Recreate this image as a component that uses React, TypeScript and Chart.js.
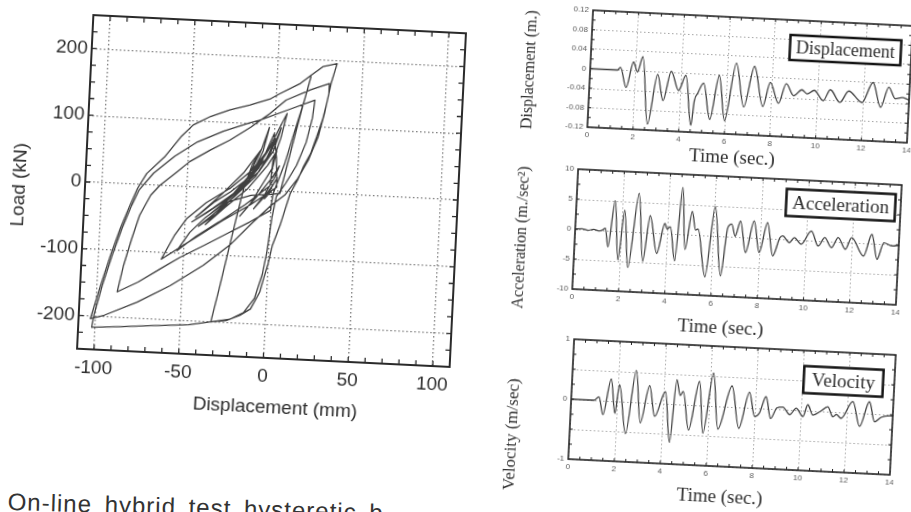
import React, { useEffect, useRef } from 'react';
import { Chart, registerables } from 'chart.js';

Chart.register(...registerables);

const SANS = '"Liberation Sans", Arial, sans-serif';
const SERIF = '"Liberation Serif", "Times New Roman", serif';
const INK = '#2e2e2e';
const TRACE = '#404040';
const ROT = 2.8;

// ---------------- data: load–displacement path (mm, kN) ----------------
const loopSmall: [number, number][] = [
  [0, 0], [-2, -6], [-4, -12], [-1, 1], [3, 20], [0, 6], [-5, -12], [-10, -28], [-4, -6], [1, 18],
  [4, 38], [0, 20], [-8, -8], [-18, -40], [-12, -20], [-5, 12], [0, 35], [2, 60], [-3, 38], [-14, 2],
  [-27, -28], [-38, -55], [-31, -36], [-21, -8], [-11, 30], [-6, 60], [-3, 95], [-7, 62], [-17, 25], [-29, -8],
  [-44, -45], [-33, -20], [-24, -4], [-12, 22], [-4, 48], [1, 78], [-5, 52], [-16, 12], [-26, -18], [-36, -40],
  [-28, -22], [-18, 2], [-8, 34], [0, 86], [2, 50], [3, 6],
];
const loopMedium: [number, number][] = [
  [-12, -22], [-28, -48], [-45, -78], [-63, -110], [-56, -74], [-49, -47], [-38, -22], [-24, 2], [-12, 30], [-3, 62],
  [7, 117], [4, 80], [0, 45], [-1, 8], [-15, -22], [-30, -50], [-43, -73], [-54, -96], [-47, -68], [-38, -44],
  [-26, -20], [-12, -8], [0, -5], [5, -3], [10, 58], [15, 118], [20, 174], [17, 140], [12, 92], [7, 42],
  [1, -4], [0, -29], [-12, -48], [-25, -67], [-38, -86], [-52, -106], [-63, -124], [-76, -146], [-88, -162],
];
const loopLarge: [number, number][] = [
  [-85, -122], [-81, -82], [-77, -46], [-71, -15], [-66, 0], [-56, 22], [-49, 38], [-37, 57], [-26, 73], [-14, 94],
  [-3, 116], [6, 137], [20, 154], [31, 165], [31, 150], [29, 120], [26, 85], [21, 50], [15, 20], [8, -5],
  [0, -22], [-10, -48], [-23, -84], [-38, -116], [-57, -149], [-76, -176], [-95, -198], [-103, -204], [-98, -154], [-93, -108],
  [-88, -67], [-83, -32], [-79, -6], [-74, 17], [-64, 43], [-55, 74], [-48, 93], [-38, 107], [-27, 118], [-15, 127],
  [-3, 138], [2, 146], [14, 163], [20, 176], [27, 190], [35, 195], [34, 185], [32, 165], [30, 135], [28, 110],
  [25, 84], [22, 59], [18, 38], [15, 18], [11, -3], [6, -51], [2, -82], [0, -110], [-2, -130], [-4, -152],
  [-9, -178], [-15, -188], [-23, -197], [-32, -200], [-45, -206], [-67, -210], [-85, -214], [-102, -217],
];
const loopFinal: [number, number][] = [
  [-101, -198], [-97, -154], [-92, -108], [-87, -67], [-82, -32], [-78, -8], [-70, 18], [-58, 45], [-45, 68], [-30, 86],
  [-15, 100], [-9, 105], [7, 122], [23, 139], [22, 112], [19, 75], [14, 40], [8, 12], [3, -8], [1, -40],
  [-1, -92], [-3, -125], [-7, -162], [-13, -184], [-21, -195], [-32, -200], [-28, -150], [-23.5, -90], [-19.7, -40], [-16, 7],
  [-12, 38], [-7, 62], [-14, 20], [-24, -12], [-30, -28], [-22, -8], [-12, 25], [-6, 45], [-13, 15], [-20, -5],
  [-30, -35], [-42, -58], [-34, -40], [-22, -12], [-10, 20], [-2, 55], [4, 95], [0, 60], [-8, 28], [-20, -2],
  [-34, -30], [-46, -52], [-38, -38], [-26, -16], [-16, 5],
];
const hystXTicks = [-100, -50, 0, 50, 100];
const hystYTicks = [-200, -100, 0, 100, 200];

// ---------------- data: time histories (s, value) ----------------
const timeTicks = [0, 2, 4, 6, 8, 10, 12, 14];

const dispSeries: [number, number][] = [
  [0, 0], [1.2, 0], [1.32, 0.006], [1.61, -0.035], [1.88, 0.018], [2.08, -0.002], [2.28, 0.03], [2.62, -0.108],
  [2.96, -0.005], [3.25, -0.058], [3.55, 0.003], [3.91, -0.036], [4.2, -0.004], [4.52, -0.106], [4.62, -0.055],
  [4.75, -0.04], [4.99, -0.018], [5.33, -0.092], [5.66, -0.001], [5.98, -0.093], [6.38, 0.026], [6.79, -0.063],
  [7.18, 0.021], [7.62, -0.06], [7.9, -0.01], [8.3, -0.052], [8.6, -0.011], [8.95, -0.035], [9.3, -0.022],
  [9.53, -0.03], [9.84, -0.022], [10.25, -0.042], [10.54, -0.019], [10.98, -0.044], [11.35, -0.02], [11.95, -0.042],
  [12.39, 0.0], [12.77, -0.05], [13.09, -0.008], [13.4, -0.031], [13.7, -0.028], [14, -0.032],
];
const dispYTicks = [-0.12, -0.08, -0.04, 0, 0.04, 0.08, 0.12];
const dispYLabels = ['-0.12', '-0.08', '-0.04', '0', '0.04', '0.08', '0.12'];

const accSeries: [number, number][] = [
  [0, 0], [0.3, 0.12], [0.55, -0.1], [0.8, 0.1], [1.05, -0.12], [1.2, 0.1], [1.3, 0.4], [1.45, -2.67],
  [1.67, 5.05], [1.91, -4.8], [2.1, 3.57], [2.35, -5.95], [2.69, 6.47], [2.98, -4.83], [3.21, 2.83], [3.57, -3.38],
  [3.86, 1.67], [3.97, 0.75], [4.1, 1.16], [4.36, -4.47], [4.56, 7.81], [4.78, -2.5], [5.02, 3.9], [5.2, 0.8],
  [5.3, 1.0], [5.7, -6.9], [6.0, 4.9], [6.37, -6.6], [6.58, 1.4], [6.75, 2.1], [6.92, 0.1], [7.12, 2.7],
  [7.4, -2.5], [7.71, 2.8], [7.99, -2.4], [8.29, 2.66], [8.58, -2.85], [8.85, 0.2], [8.97, 0.56], [9.27, -0.5],
  [9.48, 0.37], [9.78, -0.68], [10.2, 1.6], [10.52, -0.83], [10.79, 0.6], [11.1, -1.0], [11.37, 0.72], [11.7, -1.17],
  [11.95, 0.82], [12.5, -2.13], [12.82, 1.54], [13.09, -2.58], [13.35, 0.24], [13.72, -0.24], [14, -0.1],
];
const accYTicks = [-10, -5, 0, 5, 10];
const accYLabels = ['-10', '-5', '0', '5', '10'];

const velSeries: [number, number][] = [
  [0, 0], [1.0, 0], [1.2, 0.06], [1.41, -0.23], [1.7, 0.37], [1.93, -0.2], [2.07, 0.28], [2.43, -0.53],
  [2.77, 0.53], [3.05, -0.34], [3.38, 0.29], [3.66, -0.22], [4.08, 0.2], [4.36, -0.64], [4.55, 0.41], [4.73, 0.15],
  [4.85, 0.22], [5.16, -0.42], [5.54, 0.4], [5.79, -0.46], [6.13, 0.55], [6.43, -0.38], [6.96, 0.35], [7.34, -0.35],
  [7.73, 0.26], [8.0, -0.14], [8.2, -0.08], [8.46, 0.2], [8.7, -0.16], [8.95, 0.02], [9.21, 0.04], [9.52, -0.08],
  [9.79, 0.03], [10.1, -0.1], [10.29, 0.1], [10.53, -0.07], [10.85, 0.0], [11.16, 0.08], [11.4, -0.08], [11.55, -0.04],
  [11.76, -0.1], [12.24, 0.19], [12.58, -0.22], [12.96, 0.2], [13.22, -0.13], [13.5, -0.05], [13.86, -0.02], [14, -0.02],
];
const velYTicks = [-1, -0.5, 0, 0.5, 1];
const velYLabels = ['-1', '', '0', '', '1'];

// ---------------- helpers ----------------
function innerSteps(min: number, max: number, step: number): number[] {
  const out: number[] = [];
  const n = Math.round((max - min) / step);
  for (let i = 1; i < n; i++) out.push(+(min + i * step).toFixed(6));
  return out;
}

const frameTicks = {
  id: 'frameTicks',
  afterDraw(chart: any, _args: any, opts: any) {
    const { ctx, chartArea: a, scales } = chart;
    const xs = scales.x;
    const ys = scales.y;
    ctx.save();
    ctx.strokeStyle = opts.color;
    ctx.lineWidth = opts.tickWidth;
    ctx.beginPath();
    for (const v of opts.xTicks) {
      const p = xs.getPixelForValue(v);
      ctx.moveTo(p, a.bottom);
      ctx.lineTo(p, a.bottom - opts.tickLen);
      ctx.moveTo(p, a.top);
      ctx.lineTo(p, a.top + opts.tickLen);
    }
    for (const v of opts.yTicks) {
      const p = ys.getPixelForValue(v);
      ctx.moveTo(a.left, p);
      ctx.lineTo(a.left + opts.tickLen, p);
      ctx.moveTo(a.right, p);
      ctx.lineTo(a.right - opts.tickLen, p);
    }
    ctx.stroke();
    ctx.lineWidth = opts.frameWidth;
    ctx.strokeRect(a.left, a.top, a.right - a.left, a.bottom - a.top);
    const cx0 = (a.left + a.right) / 2;
    const cy0 = (a.top + a.bottom) / 2;
    for (const t of opts.texts) {
      ctx.save();
      ctx.translate(cx0 + t.dx, cy0 + t.dy);
      if (t.rot) ctx.rotate((t.rot * Math.PI) / 180);
      ctx.font = t.font;
      ctx.textAlign = 'center';
      ctx.textBaseline = 'middle';
      if (t.box) {
        const w = ctx.measureText(t.text).width + t.box.padX * 2;
        const h = t.box.h;
        ctx.fillStyle = '#ffffff';
        ctx.fillRect(-w / 2, -h / 2, w, h);
        ctx.lineWidth = t.box.lw;
        ctx.strokeStyle = '#141414';
        ctx.strokeRect(-w / 2, -h / 2, w, h);
      }
      ctx.fillStyle = t.color || INK;
      ctx.fillText(t.text, 0, 1);
      ctx.restore();
    }
    ctx.restore();
  },
};

function zeroPad(s: any) {
  s.paddingTop = 0;
  s.paddingBottom = 0;
  s.paddingLeft = 0;
  s.paddingRight = 0;
}

function hystConfig(): any {
  const path = [...loopSmall, ...loopMedium, ...loopLarge, ...loopFinal].map(([x, y]) => ({ x, y }));
  return {
    type: 'scatter',
    data: {
      datasets: [{
        data: path, showLine: true, borderColor: TRACE, borderWidth: 1.3, pointRadius: 0,
        tension: 0, borderJoinStyle: 'round', fill: false,
      }],
    },
    options: {
      animation: false, responsive: false, devicePixelRatio: 1, events: [],
      layout: { padding: { left: 0, top: 5, right: 10, bottom: 0 } },
      plugins: {
        legend: { display: false }, tooltip: { enabled: false },
        frameTicks: {
          xTicks: innerSteps(-110, 110, 10), yTicks: innerSteps(-250, 250, 25),
          tickLen: 5, tickWidth: 1.3, frameWidth: 2, color: '#2a2a2a',
          texts: [
            { text: 'Displacement (mm)', dx: 14, dy: 216, font: `19px ${SANS}` },
            { text: 'Load (kN)', dx: -253, dy: 6, rot: -90, font: `19px ${SANS}` },
          ],
        },
      },
      scales: {
        x: {
          type: 'linear', min: -110, max: 110,
          afterBuildTicks: (s: any) => { s.ticks = hystXTicks.map((v) => ({ value: v })); },
          ticks: { font: { family: SANS, size: 19 }, color: INK, padding: 7, maxRotation: 0, autoSkip: false },
          grid: { color: '#7a7a7a', lineWidth: 1.3, drawTicks: false },
          border: { display: false, dash: [1.5, 2.5] },
          afterFit: (s: any) => { s.height = 70; zeroPad(s); },
        },
        y: {
          type: 'linear', min: -250, max: 250,
          afterBuildTicks: (s: any) => { s.ticks = hystYTicks.map((v) => ({ value: v })); },
          ticks: { font: { family: SANS, size: 19 }, color: INK, padding: 4, autoSkip: false },
          grid: { color: '#7a7a7a', lineWidth: 1.3, drawTicks: false },
          border: { display: false, dash: [1.5, 2.5] },
          afterFit: (s: any) => { s.width = 84; zeroPad(s); },
        },
      },
    },
    plugins: [frameTicks],
  };
}

function seriesConfig(
  series: [number, number][], yMin: number, yMax: number, yTicks: number[], yLabels: string[],
  yMinorStep: number, bottomH: number, texts: any[],
): any {
  return {
    type: 'scatter',
    data: {
      datasets: [{
        data: series.map(([x, y]) => ({ x, y })), showLine: true, borderColor: TRACE, borderWidth: 1.3,
        pointRadius: 0, cubicInterpolationMode: 'monotone', fill: false,
      }],
    },
    options: {
      animation: false, responsive: false, devicePixelRatio: 1, events: [],
      layout: { padding: { left: 0, top: 4, right: 4, bottom: 0 } },
      plugins: {
        legend: { display: false }, tooltip: { enabled: false },
        frameTicks: {
          xTicks: innerSteps(0, 14, 0.5), yTicks: innerSteps(yMin, yMax, yMinorStep),
          tickLen: 3, tickWidth: 1, frameWidth: 1.6, color: '#222222', texts,
        },
      },
      scales: {
        x: {
          type: 'linear', min: 0, max: 14,
          afterBuildTicks: (s: any) => { s.ticks = timeTicks.map((v) => ({ value: v })); },
          ticks: { font: { family: SANS, size: 8 }, color: '#5a5a5a', padding: 3, maxRotation: 0, autoSkip: false },
          grid: { color: '#a4a4a4', lineWidth: 1, drawTicks: false },
          border: { display: false, dash: [1.5, 2.5] },
          afterFit: (s: any) => { s.height = bottomH; zeroPad(s); },
        },
        y: {
          type: 'linear', min: yMin, max: yMax,
          afterBuildTicks: (s: any) => { s.ticks = yTicks.map((v) => ({ value: v })); },
          ticks: {
            font: { family: SANS, size: 8 }, color: '#5a5a5a', padding: 4, autoSkip: false,
            callback: (v: number) => yLabels[yTicks.indexOf(v)] ?? '',
          },
          grid: { color: '#a4a4a4', lineWidth: 1, drawTicks: false },
          border: { display: false, dash: [1.5, 2.5] },
          afterFit: (s: any) => { s.width = 80; zeroPad(s); },
        },
      },
    },
    plugins: [frameTicks],
  };
}

const dispConfig = () => seriesConfig(dispSeries, -0.12, 0.12, dispYTicks, dispYLabels, 0.02, 36, [
  { text: 'Displacement (m.)', dx: -221, dy: 4, rot: -90, font: `16px ${SERIF}` },
  { text: 'Time (sec.)', dx: -14, dy: 82, font: `19px ${SERIF}` },
  { text: 'Displacement', dx: 94, dy: -31, font: `18px ${SERIF}`, box: { padX: 6, h: 25, lw: 2.5 } },
]);
const accConfig = () => seriesConfig(accSeries, -10, 10, accYTicks, accYLabels, 2.5, 44, [
  { text: 'Acceleration (m./sec²)', dx: -216, dy: 11, rot: -90, font: `16px ${SERIF}` },
  { text: 'Time (sec.)', dx: -12, dy: 91, font: `19px ${SERIF}` },
  { text: 'Acceleration', dx: 102, dy: -37, font: `19px ${SERIF}`, box: { padX: 6, h: 27, lw: 2.5 } },
]);
const velConfig = () => seriesConfig(velSeries, -1, 1, velYTicks, velYLabels, 0.25, 44, [
  { text: 'Velocity (m/sec)', dx: -219, dy: 38, rot: -90, font: `17px ${SERIF}` },
  { text: 'Time (sec.)', dx: -8, dy: 90, font: `19px ${SERIF}` },
  { text: 'Velocity', dx: 110, dy: -31, font: `19px ${SERIF}`, box: { padX: 8, h: 27, lw: 2.5 } },
]);

function ChartBox(props: { left: number; top: number; width: number; height: number; ox: number; oy: number; make: () => any }) {
  const ref = useRef<HTMLCanvasElement>(null);
  useEffect(() => {
    const chart = new Chart(ref.current as HTMLCanvasElement, props.make());
    return () => chart.destroy();
  }, []);
  const { left, top, width, height, ox, oy } = props;
  return (
    <div
      style={{
        position: 'absolute', left, top, width, height,
        transform: `rotate(${ROT}deg)`, transformOrigin: `${ox}px ${oy}px`,
      }}
    >
      <canvas ref={ref} width={width} height={height} style={{ display: 'block', width, height }} />
    </div>
  );
}

export default function App() {
  return (
    <div
      style={{
        position: 'absolute', left: 0, top: 0, width: 911, height: 512,
        overflow: 'hidden', background: '#ffffff',
      }}
    >
      <ChartBox left={0.5} top={19} width={467} height={409} ox={270.5} oy={172} make={hystConfig} />
      <ChartBox left={509.7} top={13.5} width={404} height={157} ox={240} oy={62.5} make={dispConfig} />
      <ChartBox left={494.5} top={172.5} width={408} height={168} ox={242} oy={64} make={accConfig} />
      <ChartBox left={491.3} top={343} width={406} height={168} ox={241} oy={64} make={velConfig} />
      <div
        style={{
          position: 'absolute', left: 8, top: 490, fontFamily: SANS, fontSize: 24,
          letterSpacing: 1, wordSpacing: 5, color: '#333', lineHeight: 1, whiteSpace: 'nowrap',
          transform: 'rotate(1.7deg)', transformOrigin: '0 0',
        }}
      >
        On-line hybrid test hysteretic b
      </div>
    </div>
  );
}
